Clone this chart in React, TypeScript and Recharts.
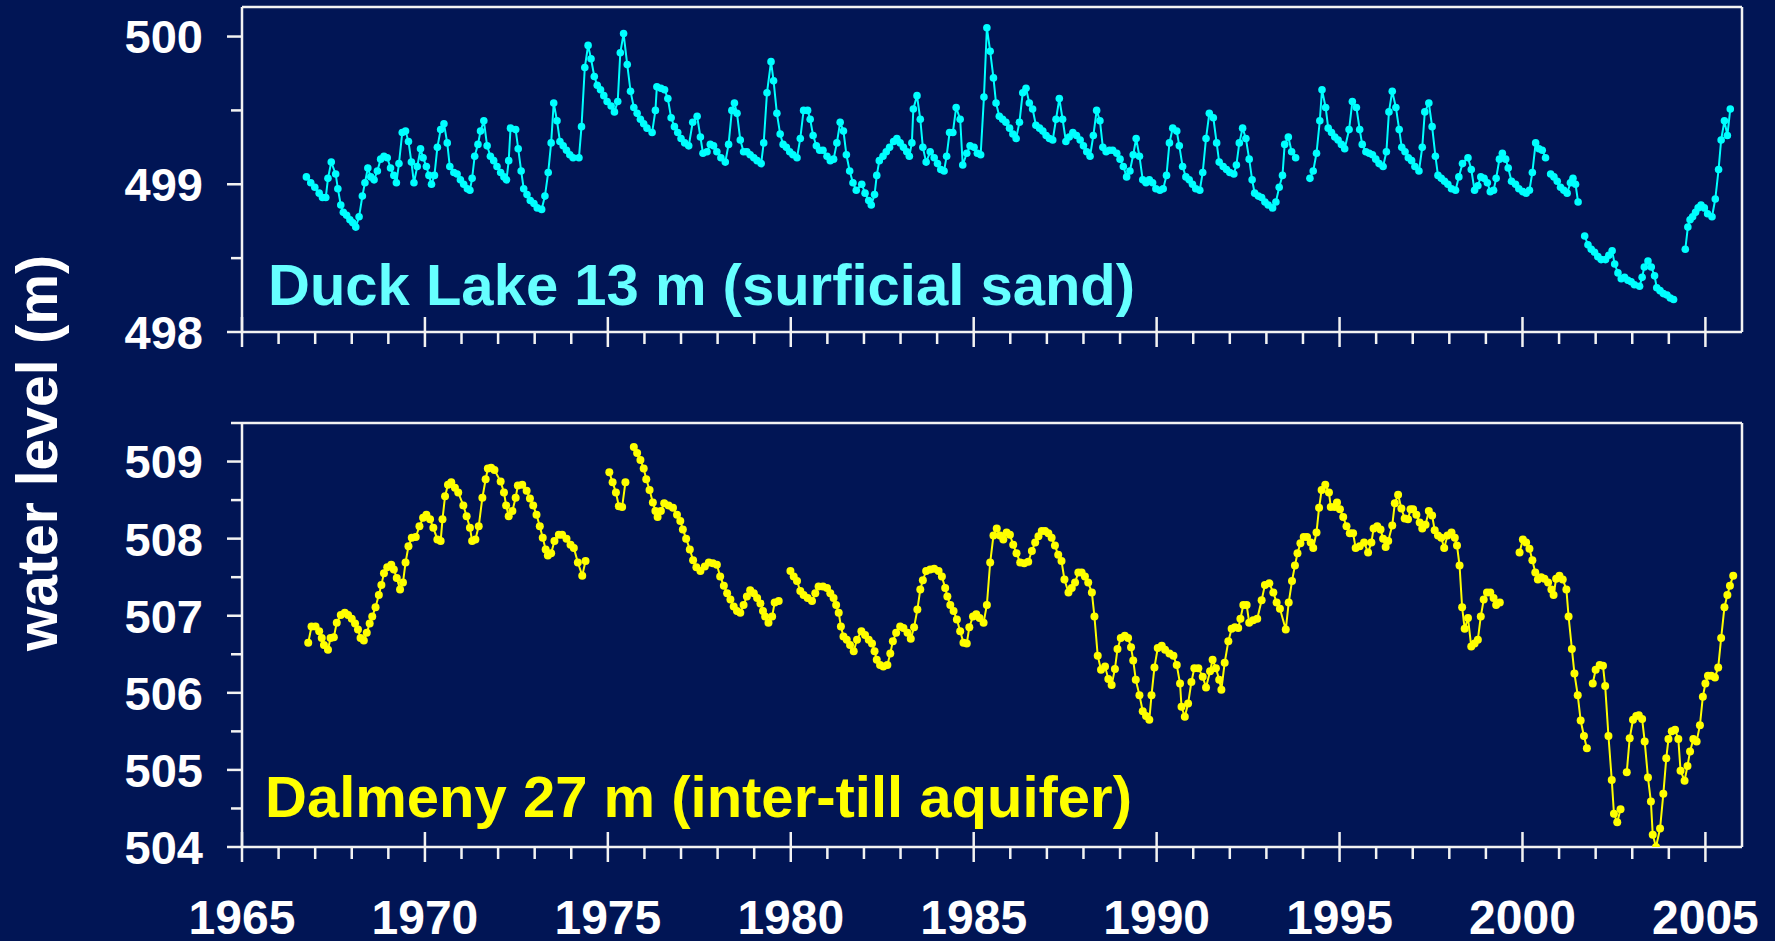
import React from 'react';
import { LineChart, Line, XAxis, YAxis, ReferenceLine } from 'recharts';

const BG = '#011555';
const FONT = '"Liberation Sans", Arial, Helvetica, sans-serif';
const AXIS = '#f2f2f2';

// x axis: one tick per year, labels every 5 years
const yearTicks = [
  1965, 1966, 1967, 1968, 1969, 1970, 1971, 1972, 1973, 1974,
  1975, 1976, 1977, 1978, 1979, 1980, 1981, 1982, 1983, 1984,
  1985, 1986, 1987, 1988, 1989, 1990, 1991, 1992, 1993, 1994,
  1995, 1996, 1997, 1998, 1999, 2000, 2001, 2002, 2003, 2004, 2005,
];
const duckTicks = [498, 498.5, 499, 499.5, 500];
const dalmenyTicks = [504, 504.5, 505, 505.5, 506, 506.5, 507, 507.5, 508, 508.5, 509, 509.5];

// [decimal year, water level (m)]; null = gap in record
const duckLake: [number, number | null][] = [
  [1966.76, 499.05], [1966.88, 499.01], [1966.99, 498.98], [1967.11, 498.94], [1967.2, 498.91],
  [1967.29, 498.91], [1967.35, 499.04], [1967.44, 499.15], [1967.56, 499.07], [1967.62, 498.97],
  [1967.7, 498.86], [1967.77, 498.81], [1967.86, 498.79], [1967.95, 498.76], [1968.03, 498.74],
  [1968.11, 498.71], [1968.2, 498.78], [1968.29, 498.92], [1968.36, 499.01], [1968.44, 499.11],
  [1968.52, 499.05], [1968.61, 499.03], [1968.7, 499.09], [1968.79, 499.17], [1968.88, 499.19],
  [1968.97, 499.18], [1969.06, 499.11], [1969.15, 499.06], [1969.22, 499.01], [1969.29, 499.14],
  [1969.38, 499.35], [1969.47, 499.36], [1969.55, 499.29], [1969.63, 499.15], [1969.7, 499.01],
  [1969.79, 499.12], [1969.88, 499.24], [1969.95, 499.18], [1970.04, 499.12], [1970.11, 499.06],
  [1970.18, 499.0], [1970.26, 499.06], [1970.34, 499.25], [1970.43, 499.37], [1970.52, 499.41],
  [1970.61, 499.28], [1970.68, 499.12], [1970.79, 499.08], [1970.88, 499.07], [1970.97, 499.03],
  [1971.06, 499.0], [1971.16, 498.97], [1971.23, 498.96], [1971.29, 499.04], [1971.36, 499.19],
  [1971.45, 499.27], [1971.52, 499.36], [1971.61, 499.43], [1971.7, 499.26], [1971.79, 499.19],
  [1971.88, 499.16], [1971.97, 499.12], [1972.07, 499.08], [1972.16, 499.05], [1972.23, 499.03],
  [1972.29, 499.16], [1972.34, 499.38], [1972.48, 499.37], [1972.55, 499.24], [1972.63, 499.09],
  [1972.7, 498.97], [1972.79, 498.93], [1972.88, 498.89], [1972.98, 498.87], [1973.07, 498.84],
  [1973.19, 498.83], [1973.28, 498.92], [1973.37, 499.08], [1973.45, 499.28], [1973.52, 499.55],
  [1973.61, 499.43], [1973.69, 499.29], [1973.78, 499.26], [1973.87, 499.23], [1973.96, 499.2],
  [1974.05, 499.18], [1974.21, 499.18], [1974.28, 499.39], [1974.37, 499.79], [1974.46, 499.94],
  [1974.54, 499.85], [1974.63, 499.73], [1974.71, 499.67], [1974.8, 499.64], [1974.89, 499.6],
  [1974.98, 499.56], [1975.09, 499.53], [1975.18, 499.49], [1975.27, 499.56], [1975.34, 499.89],
  [1975.43, 500.02], [1975.53, 499.81], [1975.62, 499.63], [1975.71, 499.52], [1975.8, 499.48],
  [1975.89, 499.44], [1975.98, 499.41], [1976.07, 499.38], [1976.21, 499.35], [1976.3, 499.5],
  [1976.34, 499.66], [1976.45, 499.65], [1976.55, 499.64], [1976.64, 499.58], [1976.73, 499.45],
  [1976.82, 499.39], [1976.91, 499.35], [1977.0, 499.31], [1977.1, 499.28], [1977.21, 499.26],
  [1977.32, 499.42], [1977.44, 499.46], [1977.53, 499.32], [1977.6, 499.21], [1977.71, 499.22],
  [1977.8, 499.27], [1977.89, 499.26], [1977.98, 499.22], [1978.09, 499.18], [1978.21, 499.15],
  [1978.3, 499.27], [1978.39, 499.5], [1978.46, 499.55], [1978.53, 499.48], [1978.62, 499.3],
  [1978.71, 499.22], [1978.8, 499.22], [1978.89, 499.2], [1978.99, 499.18], [1979.08, 499.16],
  [1979.19, 499.14], [1979.26, 499.28], [1979.35, 499.62], [1979.46, 499.83], [1979.53, 499.7],
  [1979.62, 499.48], [1979.71, 499.34], [1979.79, 499.27], [1979.88, 499.25], [1979.97, 499.22],
  [1980.06, 499.2], [1980.17, 499.18], [1980.26, 499.31], [1980.35, 499.5], [1980.46, 499.5],
  [1980.53, 499.44], [1980.61, 499.33], [1980.7, 499.26], [1980.79, 499.23], [1980.88, 499.23],
  [1980.99, 499.19], [1981.08, 499.16], [1981.17, 499.17], [1981.26, 499.28], [1981.35, 499.42],
  [1981.44, 499.36], [1981.52, 499.2], [1981.61, 499.09], [1981.7, 499.01], [1981.79, 498.96],
  [1981.94, 499.0], [1982.03, 498.94], [1982.13, 498.89], [1982.2, 498.86], [1982.29, 498.93],
  [1982.35, 499.06], [1982.42, 499.16], [1982.52, 499.19], [1982.61, 499.22], [1982.7, 499.25],
  [1982.81, 499.29], [1982.9, 499.31], [1982.99, 499.28], [1983.08, 499.25], [1983.17, 499.22],
  [1983.24, 499.19], [1983.31, 499.28], [1983.35, 499.51], [1983.45, 499.6], [1983.54, 499.44],
  [1983.61, 499.25], [1983.7, 499.15], [1983.81, 499.22], [1983.92, 499.18], [1984.01, 499.14],
  [1984.1, 499.1], [1984.19, 499.09], [1984.26, 499.19], [1984.34, 499.35], [1984.43, 499.35],
  [1984.52, 499.52], [1984.63, 499.44], [1984.7, 499.13], [1984.81, 499.21], [1984.9, 499.26],
  [1985.01, 499.25], [1985.1, 499.21], [1985.19, 499.2], [1985.28, 499.59], [1985.36, 500.06],
  [1985.45, 499.9], [1985.54, 499.72], [1985.61, 499.55], [1985.7, 499.46], [1985.79, 499.44],
  [1985.88, 499.42], [1985.98, 499.38], [1986.07, 499.34], [1986.16, 499.31], [1986.25, 499.42],
  [1986.34, 499.62], [1986.43, 499.65], [1986.52, 499.55], [1986.61, 499.51], [1986.7, 499.4],
  [1986.8, 499.38], [1986.89, 499.36], [1986.98, 499.33], [1987.07, 499.31], [1987.16, 499.3],
  [1987.25, 499.44], [1987.34, 499.58], [1987.43, 499.44], [1987.52, 499.29], [1987.61, 499.32],
  [1987.71, 499.35], [1987.81, 499.33], [1987.91, 499.3], [1988.0, 499.26], [1988.09, 499.22],
  [1988.18, 499.19], [1988.27, 499.33], [1988.36, 499.5], [1988.45, 499.43], [1988.53, 499.25],
  [1988.62, 499.22], [1988.71, 499.23], [1988.8, 499.23], [1988.91, 499.21], [1989.0, 499.17],
  [1989.09, 499.12], [1989.18, 499.05], [1989.27, 499.09], [1989.36, 499.2], [1989.44, 499.31],
  [1989.53, 499.19], [1989.62, 499.03], [1989.71, 499.01], [1989.8, 499.03], [1989.89, 499.01],
  [1989.98, 498.97], [1990.09, 498.96], [1990.18, 498.97], [1990.27, 499.06], [1990.35, 499.28],
  [1990.44, 499.38], [1990.55, 499.36], [1990.62, 499.26], [1990.71, 499.12], [1990.8, 499.05],
  [1990.89, 499.03], [1990.98, 499.0], [1991.07, 498.97], [1991.18, 498.96], [1991.26, 499.08],
  [1991.35, 499.31], [1991.44, 499.48], [1991.55, 499.45], [1991.64, 499.28], [1991.71, 499.15],
  [1991.82, 499.12], [1991.91, 499.1], [1992.0, 499.08], [1992.11, 499.07], [1992.18, 499.13],
  [1992.26, 499.28], [1992.35, 499.38], [1992.44, 499.31], [1992.53, 499.17], [1992.61, 499.03],
  [1992.68, 498.94], [1992.78, 498.92], [1992.87, 498.91], [1992.96, 498.88], [1993.05, 498.86],
  [1993.17, 498.84], [1993.26, 498.88], [1993.35, 498.98], [1993.44, 499.06], [1993.5, 499.27],
  [1993.6, 499.32], [1993.69, 499.22], [1993.8, 499.18], [1994.0, null],
  [1994.19, 499.04], [1994.28, 499.09], [1994.37, 499.21], [1994.46, 499.43], [1994.52, 499.64],
  [1994.62, 499.52], [1994.69, 499.38], [1994.78, 499.35], [1994.87, 499.32], [1994.96, 499.3],
  [1995.05, 499.27], [1995.14, 499.24], [1995.26, 499.37], [1995.35, 499.56], [1995.46, 499.52],
  [1995.55, 499.37], [1995.62, 499.27], [1995.72, 499.22], [1995.81, 499.21], [1995.9, 499.2],
  [1995.99, 499.17], [1996.08, 499.14], [1996.19, 499.12], [1996.28, 499.22], [1996.35, 499.49],
  [1996.44, 499.63], [1996.54, 499.52], [1996.63, 499.37], [1996.7, 499.25], [1996.79, 499.22],
  [1996.88, 499.18], [1996.97, 499.16], [1997.06, 499.12], [1997.17, 499.09], [1997.26, 499.25],
  [1997.33, 499.49], [1997.44, 499.55], [1997.53, 499.39], [1997.62, 499.19], [1997.69, 499.06],
  [1997.78, 499.04], [1997.87, 499.02], [1997.96, 499.0], [1998.06, 498.97], [1998.17, 498.96],
  [1998.26, 499.05], [1998.36, 499.14], [1998.51, 499.18], [1998.6, 499.1], [1998.69, 498.96],
  [1998.78, 498.99], [1998.86, 499.05], [1998.95, 499.04], [1999.04, 499.01], [1999.12, 498.95],
  [1999.21, 498.96], [1999.28, 499.04], [1999.37, 499.17], [1999.45, 499.21], [1999.54, 499.17],
  [1999.61, 499.11], [1999.7, 499.02], [1999.81, 499.0], [1999.9, 498.97], [2000.01, 498.95],
  [2000.1, 498.94], [2000.19, 498.96], [2000.27, 499.08], [2000.36, 499.28], [2000.45, 499.24],
  [2000.54, 499.23], [2000.63, 499.18], [2000.7, null],
  [2000.77, 499.07], [2000.86, 499.05], [2000.95, 499.02], [2001.04, 498.98], [2001.13, 498.96],
  [2001.22, 498.94], [2001.31, 499.01], [2001.38, 499.04], [2001.45, 499.0], [2001.52, 498.88],
  [2001.61, null],
  [2001.7, 498.65], [2001.79, 498.59], [2001.88, 498.56], [2001.97, 498.54], [2002.06, 498.51],
  [2002.15, 498.49], [2002.27, 498.49], [2002.36, 498.52], [2002.45, 498.55], [2002.52, 498.46],
  [2002.61, 498.4], [2002.7, 498.36], [2002.79, 498.37], [2002.88, 498.35], [2002.97, 498.34],
  [2003.06, 498.32], [2003.2, 498.31], [2003.27, 498.37], [2003.33, 498.44], [2003.43, 498.48],
  [2003.52, 498.44], [2003.61, 498.38], [2003.67, 498.3], [2003.76, 498.28], [2003.85, 498.26],
  [2003.95, 498.25], [2004.04, 498.23], [2004.13, 498.22], [2004.3, null],
  [2004.45, 498.56], [2004.52, 498.71], [2004.58, 498.76], [2004.65, 498.78], [2004.73, 498.81],
  [2004.8, 498.84], [2004.88, 498.86], [2004.97, 498.84], [2005.06, 498.8], [2005.18, 498.78],
  [2005.27, 498.9], [2005.36, 499.1], [2005.43, 499.3], [2005.52, 499.43], [2005.6, 499.33],
  [2005.68, 499.51],
];

const dalmeny: [number, number | null][] = [
  [1966.81, 506.65], [1966.9, 506.86], [1967.01, 506.86], [1967.11, 506.8], [1967.18, 506.71],
  [1967.24, 506.62], [1967.35, 506.56], [1967.42, 506.71], [1967.51, 506.72], [1967.59, 506.91],
  [1967.7, 507.01], [1967.81, 507.04], [1967.9, 507.01], [1968.0, 506.96], [1968.09, 506.9],
  [1968.17, 506.82], [1968.24, 506.71], [1968.33, 506.68], [1968.41, 506.78], [1968.49, 506.9],
  [1968.56, 506.99], [1968.65, 507.11], [1968.74, 507.27], [1968.81, 507.4], [1968.88, 507.55],
  [1968.97, 507.63], [1969.08, 507.66], [1969.15, 507.6], [1969.23, 507.49], [1969.32, 507.34],
  [1969.4, 507.43], [1969.47, 507.69], [1969.55, 507.9], [1969.64, 508.01], [1969.75, 508.02],
  [1969.85, 508.16], [1969.95, 508.27], [1970.04, 508.31], [1970.14, 508.25], [1970.23, 508.14],
  [1970.34, 507.99], [1970.43, 507.97], [1970.48, 508.25], [1970.55, 508.55], [1970.63, 508.7],
  [1970.72, 508.73], [1970.82, 508.66], [1970.91, 508.6], [1971.05, 508.43], [1971.14, 508.29],
  [1971.23, 508.14], [1971.29, 507.97], [1971.38, 507.99], [1971.47, 508.16], [1971.57, 508.53],
  [1971.66, 508.77], [1971.72, 508.91], [1971.81, 508.92], [1971.9, 508.89], [1972.07, 508.74],
  [1972.16, 508.6], [1972.22, 508.43], [1972.29, 508.29], [1972.39, 508.36], [1972.48, 508.53],
  [1972.54, 508.69], [1972.66, 508.7], [1972.78, 508.62], [1972.87, 508.52], [1972.96, 508.43],
  [1973.05, 508.31], [1973.14, 508.16], [1973.22, 508.01], [1973.3, 507.86], [1973.36, 507.78],
  [1973.45, 507.81], [1973.54, 507.97], [1973.66, 508.05], [1973.75, 508.05], [1973.87, 508.0],
  [1973.98, 507.92], [1974.07, 507.88], [1974.18, 507.69], [1974.3, 507.52], [1974.39, 507.71],
  [1974.7, null],
  [1975.04, 508.86], [1975.13, 508.73], [1975.22, 508.6], [1975.3, 508.42], [1975.39, 508.41],
  [1975.48, 508.73], [1975.6, null],
  [1975.71, 509.19], [1975.8, 509.11], [1975.89, 509.02], [1975.98, 508.91], [1976.05, 508.77],
  [1976.14, 508.63], [1976.23, 508.47], [1976.3, 508.36], [1976.36, 508.28], [1976.45, 508.36],
  [1976.54, 508.46], [1976.66, 508.43], [1976.78, 508.4], [1976.89, 508.31], [1976.98, 508.23],
  [1977.05, 508.12], [1977.14, 508.0], [1977.24, 507.86], [1977.33, 507.72], [1977.42, 507.63],
  [1977.53, 507.58], [1977.65, 507.64], [1977.76, 507.69], [1977.87, 507.68], [1977.98, 507.66],
  [1978.07, 507.51], [1978.17, 507.39], [1978.26, 507.29], [1978.35, 507.21], [1978.44, 507.12],
  [1978.53, 507.06], [1978.62, 507.04], [1978.71, 507.14], [1978.8, 507.25], [1978.89, 507.33],
  [1978.99, 507.29], [1979.08, 507.23], [1979.17, 507.16], [1979.24, 507.06], [1979.3, 506.99],
  [1979.39, 506.91], [1979.49, 506.99], [1979.56, 507.17], [1979.67, 507.19], [1979.83, null],
  [1979.99, 507.58], [1980.08, 507.51], [1980.17, 507.45], [1980.26, 507.32], [1980.35, 507.27],
  [1980.46, 507.23], [1980.58, 507.19], [1980.67, 507.29], [1980.76, 507.38], [1980.88, 507.38],
  [1980.99, 507.36], [1981.08, 507.29], [1981.17, 507.23], [1981.24, 507.14], [1981.31, 507.04],
  [1981.37, 506.86], [1981.44, 506.73], [1981.53, 506.69], [1981.62, 506.62], [1981.72, 506.54],
  [1981.81, 506.69], [1981.93, 506.8], [1982.03, 506.75], [1982.13, 506.69], [1982.22, 506.64],
  [1982.29, 506.54], [1982.35, 506.43], [1982.44, 506.36], [1982.53, 506.34], [1982.64, 506.36],
  [1982.72, 506.51], [1982.79, 506.67], [1982.88, 506.78], [1982.99, 506.86], [1983.08, 506.84],
  [1983.19, 506.78], [1983.28, 506.7], [1983.37, 506.85], [1983.46, 507.08], [1983.54, 507.34],
  [1983.61, 507.46], [1983.7, 507.58], [1983.81, 507.6], [1983.92, 507.61], [1984.04, 507.58],
  [1984.13, 507.51], [1984.22, 507.36], [1984.28, 507.25], [1984.36, 507.14], [1984.45, 507.06],
  [1984.54, 506.95], [1984.63, 506.8], [1984.72, 506.65], [1984.81, 506.64], [1984.88, 506.85],
  [1984.98, 506.99], [1985.07, 507.02], [1985.16, 506.97], [1985.27, 506.91], [1985.36, 507.14],
  [1985.45, 507.69], [1985.54, 508.04], [1985.63, 508.13], [1985.72, 508.04], [1985.81, 507.99],
  [1985.9, 508.08], [1985.99, 508.05], [1986.08, 507.92], [1986.17, 507.81], [1986.27, 507.69],
  [1986.38, 507.68], [1986.49, 507.7], [1986.59, 507.84], [1986.68, 507.95], [1986.77, 508.03],
  [1986.86, 508.1], [1986.95, 508.1], [1987.04, 508.07], [1987.13, 508.01], [1987.22, 507.91],
  [1987.31, 507.79], [1987.4, 507.71], [1987.48, 507.47], [1987.59, 507.3], [1987.68, 507.36],
  [1987.77, 507.43], [1987.86, 507.56], [1987.95, 507.56], [1988.04, 507.51], [1988.13, 507.43],
  [1988.23, 507.3], [1988.3, 506.99], [1988.39, 506.48], [1988.48, 506.3], [1988.59, 506.34],
  [1988.68, 506.18], [1988.77, 506.1], [1988.86, 506.31], [1988.93, 506.57], [1989.02, 506.71],
  [1989.13, 506.74], [1989.22, 506.71], [1989.3, 506.59], [1989.36, 506.42], [1989.43, 506.17],
  [1989.53, 505.97], [1989.62, 505.76], [1989.71, 505.7], [1989.8, 505.65], [1989.86, 505.97],
  [1989.94, 506.33], [1990.03, 506.58], [1990.14, 506.61], [1990.23, 506.56], [1990.35, 506.51],
  [1990.46, 506.48], [1990.55, 506.36], [1990.64, 506.12], [1990.68, 505.82], [1990.77, 505.69],
  [1990.86, 505.86], [1990.95, 506.14], [1991.03, 506.32], [1991.14, 506.32], [1991.26, 506.21],
  [1991.35, 506.07], [1991.46, 506.28], [1991.53, 506.43], [1991.62, 506.32], [1991.71, 506.17],
  [1991.77, 506.04], [1991.86, 506.39], [1991.96, 506.67], [1992.05, 506.83], [1992.14, 506.85],
  [1992.23, 506.84], [1992.29, 506.96], [1992.37, 507.14], [1992.46, 507.14], [1992.53, 506.91],
  [1992.64, 506.94], [1992.75, 506.96], [1992.87, 507.2], [1992.96, 507.4], [1993.08, 507.42],
  [1993.19, 507.3], [1993.28, 507.17], [1993.37, 507.09], [1993.53, 506.82], [1993.61, 507.17],
  [1993.7, 507.45], [1993.78, 507.65], [1993.85, 507.81], [1993.93, 507.94], [1994.02, 508.02],
  [1994.11, 508.02], [1994.21, 507.95], [1994.28, 507.88], [1994.37, 508.08], [1994.44, 508.4],
  [1994.51, 508.63], [1994.61, 508.7], [1994.71, 508.6], [1994.76, 508.41], [1994.87, 508.41],
  [1994.93, 508.47], [1995.01, 508.38], [1995.1, 508.28], [1995.19, 508.16], [1995.28, 508.07],
  [1995.37, 508.07], [1995.44, 507.88], [1995.55, 507.9], [1995.67, 507.95], [1995.78, 507.82],
  [1995.87, 507.95], [1995.93, 508.13], [1996.03, 508.16], [1996.12, 508.12], [1996.19, 508.0],
  [1996.26, 507.89], [1996.33, 507.97], [1996.44, 508.17], [1996.51, 508.46], [1996.6, 508.57],
  [1996.69, 508.39], [1996.78, 508.26], [1996.87, 508.25], [1996.94, 508.38], [1997.01, 508.38],
  [1997.1, 508.31], [1997.19, 508.21], [1997.26, 508.13], [1997.35, 508.18], [1997.44, 508.36],
  [1997.53, 508.3], [1997.6, 508.11], [1997.69, 508.04], [1997.78, 508.01], [1997.86, 507.88],
  [1997.95, 508.04], [1998.06, 508.08], [1998.15, 508.01], [1998.21, 507.91], [1998.28, 507.65],
  [1998.35, 507.11], [1998.42, 506.83], [1998.51, 506.97], [1998.6, 506.6], [1998.69, 506.64],
  [1998.78, 506.69], [1998.86, 506.99], [1998.94, 507.21], [1999.03, 507.3], [1999.12, 507.3],
  [1999.21, 507.23], [1999.28, 507.14], [1999.38, 507.17], [1999.6, null],
  [1999.92, 507.82], [2000.01, 507.99], [2000.1, 507.95], [2000.19, 507.87], [2000.27, 507.72],
  [2000.35, 507.56], [2000.42, 507.47], [2000.51, 507.5], [2000.6, 507.48], [2000.7, 507.43],
  [2000.79, 507.34], [2000.85, 507.27], [2000.92, 507.48], [2001.01, 507.52], [2001.1, 507.47],
  [2001.2, 507.34], [2001.26, 506.99], [2001.35, 506.57], [2001.42, 506.25], [2001.51, 505.97],
  [2001.59, 505.64], [2001.68, 505.44], [2001.76, 505.28], [2001.84, null],
  [2001.92, 506.12], [2002.0, 506.3], [2002.11, 506.36], [2002.2, 506.35], [2002.26, 506.09],
  [2002.35, 505.44], [2002.44, 504.87], [2002.5, 504.43], [2002.59, 504.32], [2002.68, 504.49],
  [2002.77, null],
  [2002.85, 504.97], [2002.93, 505.41], [2003.02, 505.65], [2003.11, 505.7], [2003.18, 505.71],
  [2003.27, 505.66], [2003.34, 505.37], [2003.43, 504.9], [2003.51, 504.59], [2003.56, 504.16],
  [2003.65, 504.0], [2003.76, 504.24], [2003.85, 504.69], [2003.93, 505.15], [2003.99, 505.4],
  [2004.08, 505.5], [2004.17, 505.52], [2004.26, 505.4], [2004.32, 504.99], [2004.43, 504.86],
  [2004.51, 505.05], [2004.58, 505.24], [2004.67, 505.4], [2004.76, 505.37], [2004.85, 505.58],
  [2004.93, 505.95], [2005.0, 506.12], [2005.07, 506.22], [2005.16, 506.22], [2005.26, 506.2],
  [2005.35, 506.33], [2005.43, 506.71], [2005.52, 507.11], [2005.6, 507.27], [2005.67, 507.39],
  [2005.76, 507.52],
];

const duckData = duckLake.map(([year, level]) => ({ year, level }));
const dalmenyData = dalmeny.map(([year, level]) => ({ year, level }));

const YTick = (props: any) => {
  const { x, y, payload } = props;
  const major = Number.isInteger(payload.value);
  return (
    <g>
      <line x1={x - (major ? 15 : 11)} x2={x} y1={y} y2={y} stroke={AXIS} strokeWidth={2.5} />
      {major && (
        <text x={x - 39} y={y} dy="0.36em" textAnchor="end" fill="#fff"
          fontSize={47} fontWeight="bold" fontFamily={FONT}>
          {payload.value}
        </text>
      )}
    </g>
  );
};

const XTick = (props: any) => {
  const { x, y, payload, showLabel } = props;
  const major = payload.value % 5 === 0;
  return (
    <g>
      <line x1={x} x2={x} y1={major ? y - 15 : y} y2={major ? y + 15 : y + 12} stroke={AXIS} strokeWidth={2.5} />
      {showLabel && major && (
        <text x={x} y={y + 87} textAnchor="middle" fill="#fff"
          fontSize={48} fontWeight="bold" fontFamily={FONT}>
          {payload.value}
        </text>
      )}
    </g>
  );
};

const axisLine = { stroke: AXIS, strokeWidth: 2.5 };

export default function App() {
  return (
    <div style={{ position: 'absolute', left: 0, top: 0, width: 1775, height: 941, background: BG, overflow: 'hidden' }}>
      <div style={{ position: 'absolute', left: 0, top: 0 }}>
        <LineChart width={1775} height={941} data={duckData} margin={{ top: 7, right: 33, bottom: 579, left: 0 }}>
          <XAxis dataKey="year" type="number" domain={[1965, 2006]} ticks={yearTicks} interval={0}
            allowDataOverflow height={30} tickSize={0} tickMargin={0} tickLine={false}
            axisLine={axisLine} tick={<XTick showLabel={false} />} />
          <YAxis type="number" domain={[498, 500.2]} ticks={duckTicks} interval={0} allowDataOverflow
            width={242} tickSize={0} tickMargin={0} tickLine={false} axisLine={axisLine} tick={<YTick />} />
          <ReferenceLine y={500.2} stroke={AXIS} strokeWidth={2.5} ifOverflow="visible" />
          <ReferenceLine x={2006} stroke={AXIS} strokeWidth={2.5} ifOverflow="visible" />
          <Line dataKey="level" stroke="#00ffff" strokeWidth={2} connectNulls={false}
            dot={{ r: 3.8, fill: '#00ffff', strokeWidth: 0 }} activeDot={false} isAnimationActive={false} />
        </LineChart>
      </div>
      <div style={{ position: 'absolute', left: 0, top: 0 }}>
        <LineChart width={1775} height={941} data={dalmenyData} margin={{ top: 423, right: 33, bottom: 0, left: 0 }}>
          <XAxis dataKey="year" type="number" domain={[1965, 2006]} ticks={yearTicks} interval={0}
            allowDataOverflow height={94} tickSize={0} tickMargin={0} tickLine={false}
            axisLine={axisLine} tick={<XTick showLabel />} />
          <YAxis type="number" domain={[504, 509.5]} ticks={dalmenyTicks} interval={0} allowDataOverflow
            width={242} tickSize={0} tickMargin={0} tickLine={false} axisLine={axisLine} tick={<YTick />} />
          <ReferenceLine y={509.5} stroke={AXIS} strokeWidth={2.5} ifOverflow="visible" />
          <ReferenceLine x={2006} stroke={AXIS} strokeWidth={2.5} ifOverflow="visible" />
          <Line dataKey="level" stroke="#ffff00" strokeWidth={2} connectNulls={false}
            dot={{ r: 4, fill: '#ffff00', strokeWidth: 0 }} activeDot={false} isAnimationActive={false} />
        </LineChart>
      </div>
      <svg width={1775} height={941} style={{ position: 'absolute', left: 0, top: 0, pointerEvents: 'none' }}>
        <text x={57} y={453} transform="rotate(-90 57 453)" textAnchor="middle" fill="#fff"
          fontSize={57} fontWeight="bold" fontFamily={FONT}>
          water level (m)
        </text>
        <text x={268} y={305} fill="#66ffff" fontSize={58} fontWeight="bold" fontFamily={FONT}>
          Duck Lake 13 m (surficial sand)
        </text>
        <text x={265} y={817} fill="#ffff00" fontSize={58} fontWeight="bold" fontFamily={FONT}>
          Dalmeny 27 m (inter-till aquifer)
        </text>
      </svg>
    </div>
  );
}
